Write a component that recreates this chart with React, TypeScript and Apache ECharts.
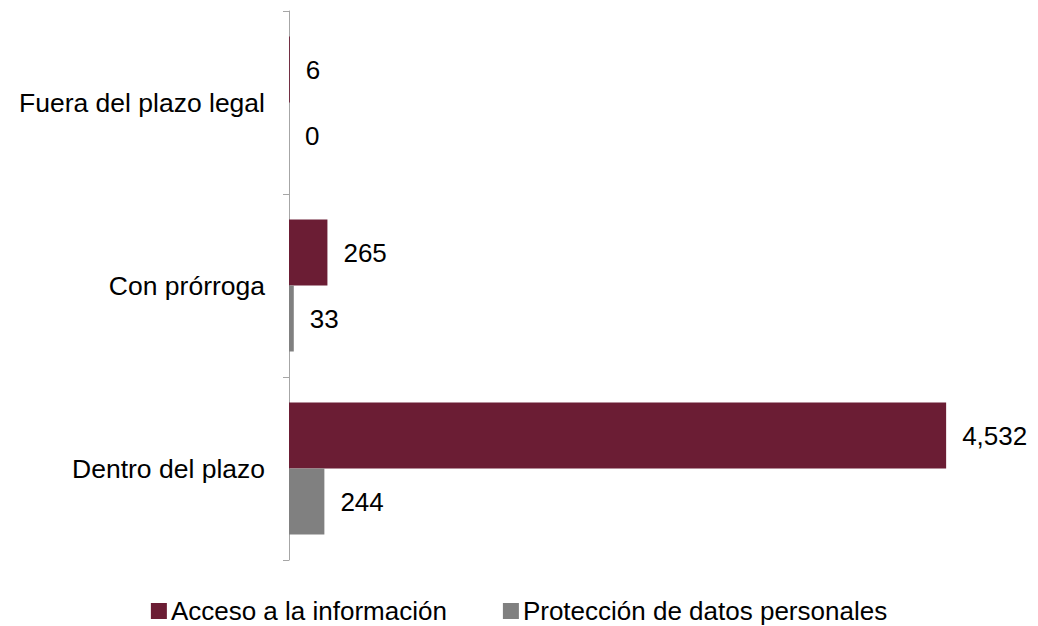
import React, { useEffect, useRef } from "react";
import * as echarts from "echarts";

const categories = ["Dentro del plazo", "Con prórroga", "Fuera del plazo legal"];
const seriesNames = ["Acceso a la información", "Protección de datos personales"];
const accesoValues = [4532, 265, 6];
const proteccionValues = [244, 33, 0];
const colors = ["#6B1D34", "#808080"];

export default function App() {
  const ref = useRef<HTMLDivElement>(null);
  useEffect(() => {
    if (!ref.current) return;
    const chart = echarts.init(ref.current, null, { renderer: "svg" });
    const font = "'Liberation Sans', Arial, sans-serif";
    const label = {
      show: true,
      position: "right" as const,
      distance: 16,
      color: "#000",
      fontSize: 26,
      fontFamily: font,
      formatter: (p: any) => Number(p.value).toLocaleString("en-US"),
    };
    chart.setOption({
      animation: false,
      grid: { left: 289, right: 24, top: 11, bottom: 66, containLabel: false },
      legend: {
        top: 593,
        left: "center",
        icon: "rect",
        itemWidth: 16,
        itemHeight: 16,
        itemGap: 56,
        textStyle: { fontSize: 26, fontFamily: font, color: "#000", padding: [0, 0, 0, -1] },
        data: seriesNames,
      },
      xAxis: { type: "value", min: 0, max: 5000, show: false },
      yAxis: {
        type: "category",
        data: categories,
        axisLine: { show: true, lineStyle: { color: "#A6A6A6", width: 1 } },
        axisTick: { show: true, length: 6, lineStyle: { color: "#A6A6A6" } },
        axisLabel: { fontSize: 26.5, fontFamily: font, color: "#000", margin: 24 },
      },
      series: [
        {
          name: seriesNames[0],
          type: "bar",
          data: accesoValues,
          barWidth: 66,
          barGap: "0%",
          itemStyle: { color: colors[0] },
          label,
        },
        {
          name: seriesNames[1],
          type: "bar",
          data: proteccionValues,
          barWidth: 66,
          barGap: "0%",
          itemStyle: { color: colors[1] },
          label,
        },
      ],
    });
    return () => chart.dispose();
  }, []);
  return <div ref={ref} style={{ width: 1038, height: 626, position: "absolute", left: 0, top: 0 }} />;
}
